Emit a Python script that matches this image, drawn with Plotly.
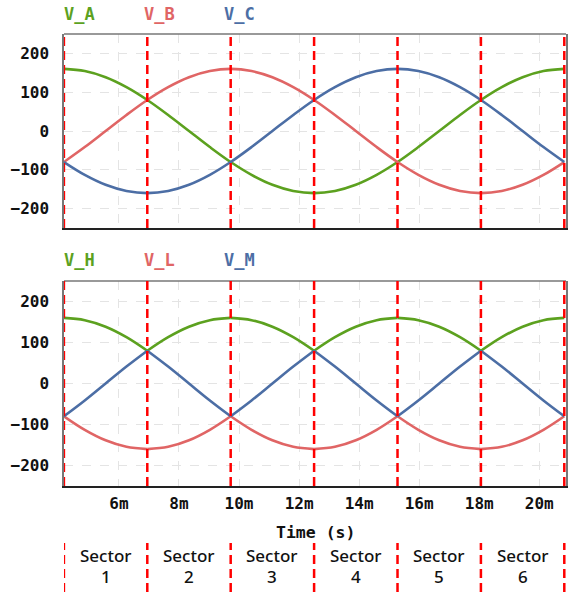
import plotly.graph_objects as go

# Time samples (ms) over one 60 Hz cycle, 15 degree steps
t_ms = [4.167, 4.861, 5.556, 6.250, 6.944, 7.639, 8.333, 9.028, 9.722, 10.417,
        11.111, 11.806, 12.500, 13.194, 13.889, 14.583, 15.278, 15.972, 16.667,
        17.361, 18.056, 18.750, 19.444, 20.139, 20.833]

# Phase voltages
v_a = [160, 154.5, 138.6, 113.1, 80, 41.4, 0, -41.4, -80, -113.1, -138.6, -154.5, -160,
       -154.5, -138.6, -113.1, -80, -41.4, 0, 41.4, 80, 113.1, 138.6, 154.5, 160]
v_b = [-80, -41.4, 0, 41.4, 80, 113.1, 138.6, 154.5, 160, 154.5, 138.6, 113.1, 80,
       41.4, 0, -41.4, -80, -113.1, -138.6, -154.5, -160, -154.5, -138.6, -113.1, -80]
v_c = [-80, -113.1, -138.6, -154.5, -160, -154.5, -138.6, -113.1, -80, -41.4, 0, 41.4, 80,
       113.1, 138.6, 154.5, 160, 154.5, 138.6, 113.1, 80, 41.4, 0, -41.4, -80]

# Highest, lowest and middle phase voltage
v_h = [160, 154.5, 138.6, 113.1, 80, 113.1, 138.6, 154.5, 160, 154.5, 138.6, 113.1, 80,
       113.1, 138.6, 154.5, 160, 154.5, 138.6, 113.1, 80, 113.1, 138.6, 154.5, 160]
v_l = [-80, -113.1, -138.6, -154.5, -160, -154.5, -138.6, -113.1, -80, -113.1, -138.6, -154.5, -160,
       -154.5, -138.6, -113.1, -80, -113.1, -138.6, -154.5, -160, -154.5, -138.6, -113.1, -80]
v_m = [-80, -41.4, 0, 41.4, 80, 41.4, 0, -41.4, -80, -41.4, 0, 41.4, 80,
       41.4, 0, -41.4, -80, -41.4, 0, 41.4, 80, 41.4, 0, -41.4, -80]

# Sector boundaries (ms) and labels
sector_edges = [4.167, 6.944, 9.722, 12.500, 15.278, 18.056, 20.833]
sector_names = ["1", "2", "3", "4", "5", "6"]

y_ticks = [-200, -100, 0, 100, 200]
x_ticks = [6, 8, 10, 12, 14, 16, 18, 20]
x_tick_text = ["6m", "8m", "10m", "12m", "14m", "16m", "18m", "20m"]

GREEN = "#5ca11f"
RED = "#e06565"
BLUE = "#4c6ea5"
MONO = "DejaVu Sans Mono"

W, H = 573, 592
def px_x(p):
    return p / W
def px_y(p):
    return 1 - p / H


def split_by_sector(xs, ys, step=4):
    """Break a sampled curve at sector edges so each piece is smoothed on its own."""
    out_x, out_y = [], []
    for s in range(0, len(xs) - 1, step):
        out_x += xs[s:s + step + 1] + [None]
        out_y += ys[s:s + step + 1] + [None]
    return out_x, out_y


fig = go.Figure()

top = [("V_A", v_a, GREEN), ("V_B", v_b, RED), ("V_C", v_c, BLUE)]
bot = [("V_H", v_h, GREEN), ("V_L", v_l, RED), ("V_M", v_m, BLUE)]
for name, ys, col in top:
    fig.add_trace(go.Scatter(x=t_ms, y=ys, mode="lines", name=name,
                             line=dict(color=col, width=2.6, shape="spline", smoothing=1),
                             xaxis="x", yaxis="y"))
for name, ys, col in bot:
    sx, sy = split_by_sector(t_ms, ys)
    fig.add_trace(go.Scatter(x=sx, y=sy, mode="lines", name=name, connectgaps=False,
                             line=dict(color=col, width=2.6, shape="spline", smoothing=1),
                             xaxis="x2", yaxis="y2"))

x_dom = [px_x(64), px_x(566)]
x_rng = [4.17, 20.89]
common_x = dict(range=x_rng, domain=x_dom, tickvals=x_ticks, showgrid=True,
                gridcolor="#e4e4e4", griddash="dash", gridwidth=1, zeroline=False,
                showline=True, linecolor="#222", linewidth=1.5, ticks="")
common_y = dict(range=[-250, 250], tickvals=y_ticks, showgrid=True, gridcolor="#e4e4e4",
                griddash="dash", gridwidth=1, zeroline=False, showline=True,
                linecolor="#777", linewidth=1.5, mirror=True, ticks="",
                ticklabelstandoff=10,
                tickfont=dict(family=MONO, size=16, color="#111", weight="bold"))

fig.update_layout(
    width=W, height=H, margin=dict(l=0, r=0, t=0, b=0),
    paper_bgcolor="white", plot_bgcolor="white", showlegend=False,
    xaxis=dict(**common_x, anchor="y", showticklabels=False),
    yaxis=dict(**common_y, domain=[px_y(228), px_y(34)], anchor="x"),
    xaxis2=dict(**common_x, anchor="y2", matches="x", ticktext=x_tick_text,
                ticklabelstandoff=2,
                tickfont=dict(family=MONO, size=16, color="#111", weight="bold")),
    yaxis2=dict(**common_y, domain=[px_y(486), px_y(281)], anchor="x2"),
)

shapes = []
# top border of each panel
for yref in ["y domain", "y2 domain"]:
    shapes.append(dict(type="line", xref="paper", yref=yref, x0=x_dom[0], x1=x_dom[1],
                       y0=1, y1=1, line=dict(color="#777", width=1.5)))
# sector boundary markers
dash_line = dict(color="#ff0000", width=2.5, dash="9px,5px")
for e in sector_edges:
    for xr, yr in [("x", "y domain"), ("x2", "y2 domain")]:
        shapes.append(dict(type="line", xref=xr, yref=yr, x0=e, x1=e, y0=0, y1=1,
                           line=dash_line, layer="above"))
    shapes.append(dict(type="line", xref="x2", yref="paper", x0=e, x1=e,
                       y0=0, y1=px_y(543), line=dash_line))
fig.update_layout(shapes=shapes)


def label(text, x, y, xref, font):
    return dict(text=text, x=x, y=y, xref=xref, yref="paper", xanchor="center",
                yanchor="middle", showarrow=False, font=font)


ann = []
label_x = [79, 159, 239]
for (name, _, col), lx in zip(top, label_x):
    ann.append(label(name, px_x(lx), px_y(14), "paper",
                     dict(family=MONO, size=17, color=col, weight="bold")))
for (name, _, col), lx in zip(bot, label_x):
    ann.append(label(name, px_x(lx), px_y(260), "paper",
                     dict(family=MONO, size=17, color=col, weight="bold")))
ann.append(label("Time (s)", (x_dom[0] + x_dom[1]) / 2, px_y(532), "paper",
                 dict(family=MONO, size=16.5, color="#111", weight="bold")))
sector_font = dict(family="Noto Sans", size=17, color="#111", weight=500)
for i, s in enumerate(sector_names):
    mid = (sector_edges[i] + sector_edges[i + 1]) / 2
    ann.append(label("Sector", mid, px_y(555), "x2", sector_font))
    ann.append(label(s, mid, px_y(576), "x2", sector_font))
fig.update_layout(annotations=ann)

fig.write_html("out.html")
